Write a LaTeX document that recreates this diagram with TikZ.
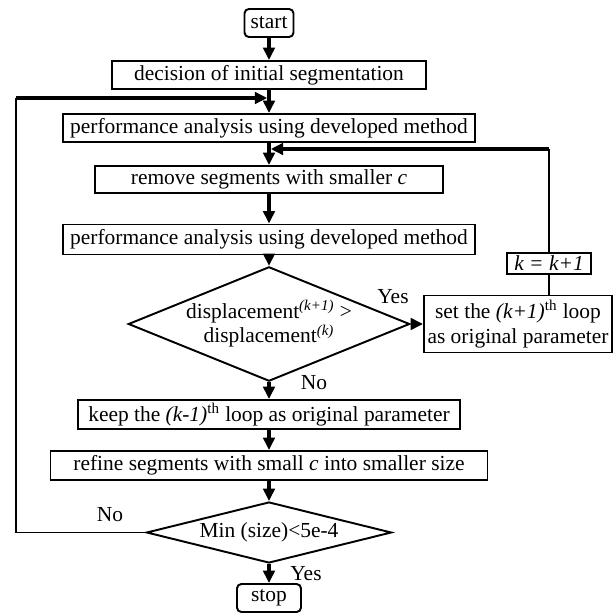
\documentclass[tikz,border=0pt]{standalone}
\usepackage{fontspec}
\setmainfont{Liberation Serif}
\usepackage{tikz}
\usetikzlibrary{shapes}
\usetikzlibrary{arrows,arrows.meta}
\tikzset{
	box/.style={rectangle,draw,line width=1.1pt,inner sep=0pt,align=center,font=\fontsize{12.2}{14}\selectfont},
	term/.style={box,rounded corners=2.5pt},
	test/.style={diamond,draw,line width=1.1pt,inner sep=0pt,align=center,font=\fontsize{12.2}{11.5}\selectfont},
	tag/.style={font=\fontsize{12.2}{14}\selectfont},
	back/.style={-,line width=0.9pt}
}

\begin{document}
\begin{tikzpicture}[->,>={Triangle[length=7pt,width=6.5pt]},line width=2pt]
	    \useasboundingbox (0,0) rectangle (12.32,-12.30);

	    \node[term,minimum width=0.98cm,minimum height=0.56cm] (start) at (5.38,-0.46) {start};
	    \node[box,minimum width=6.28cm,minimum height=0.56cm] (init) at (5.38,-1.50) {decision of initial segmentation};
	    \node[box,minimum width=8.24cm,minimum height=0.56cm] (perf1) at (5.38,-2.56) {performance analysis using developed method};
	    \node[box,minimum width=6.96cm,minimum height=0.54cm] (remove) at (5.38,-3.59) {remove segments with smaller \textit{c}};
	    \node[box,minimum width=8.24cm,minimum height=0.60cm] (perf2) at (5.38,-4.79) {performance analysis using developed method};
	    \node[test,minimum width=5.32cm,minimum height=2.16cm,aspect=2.46] (dec1) at (5.38,-6.48)
	        {displacement\textsuperscript{\textit{(k+1)}} >\\displacement\textsuperscript{\textit{(k)}}};
	    \node[box,minimum width=3.76cm,minimum height=1.14cm] (setk) at (10.36,-6.48)
	        {set the \textit{(k+1)}\textsuperscript{th} loop\\as original parameter};
	    \node[box,minimum width=1.68cm,minimum height=0.42cm] (kinc) at (10.98,-5.27) {\textit{k = k+1}};
	    \node[box,minimum width=7.64cm,minimum height=0.58cm] (keep) at (5.38,-8.29) {keep the \textit{(k-1)}\textsuperscript{th} loop as original parameter};
	    \node[box,minimum width=8.74cm,minimum height=0.58cm] (refine) at (5.38,-9.31) {refine segments with small \textit{c} into smaller size};
	    \node[test,minimum width=4.90cm,minimum height=1.22cm,aspect=4] (dec2) at (5.38,-10.65) {Min (size)<5e-4};
	    \node[term,minimum width=1.28cm,minimum height=0.56cm] (stop) at (5.38,-11.96) {stop};

	    \node[tag] (yes1) at (7.86,-5.94) {Yes};
	    \node[tag] (no1) at (6.28,-7.66) {No};
	    \node[tag] (no2) at (2.20,-10.30) {No};
	    \node[tag] (yes2) at (6.12,-11.48) {Yes};

	    \coordinate (lft) at (0.32,-1.96);
	    \coordinate (rt) at (10.98,-2.98);

	    \path
	      (start) edge (init)
	      (init) edge (perf1)
	      (perf1) edge (remove)
	      (remove) edge (perf2)
	      (perf2) edge (dec1)
	      (dec1) edge (setk)
	             edge (keep)
	      (keep) edge (refine)
	      (refine) edge (dec2)
	      (dec2) edge (stop);

	    \draw[back] (dec2.west) -| (lft);
	    \draw[shorten >=1pt] (lft) -- (lft -| start);
	    \draw[back] (setk.north -| kinc) -- (kinc);
	    \draw[back] (kinc) -- (rt);
	    \draw[shorten >=1pt] (rt) -- (rt -| start);
	  \end{tikzpicture}
\end{document}
